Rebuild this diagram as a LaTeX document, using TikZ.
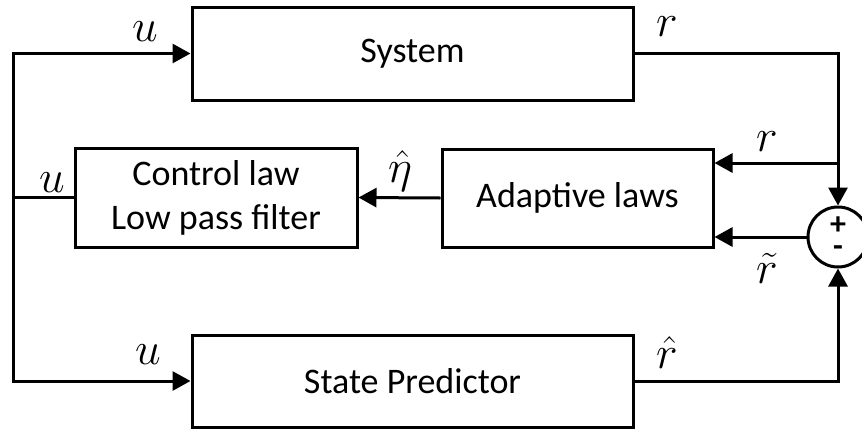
\RequirePackage{fix-cm}
\documentclass[tikz,border=0pt]{standalone}
\usepackage{fontspec}
\setmainfont{Carlito}
\usetikzlibrary{arrows.meta,calc}
\begin{document}
\begin{tikzpicture}[x=1pt,y=-1pt,
  blk/.style={draw,line width=3pt,rectangle,minimum width=#1,inner sep=0pt,align=center,font=\fontsize{36}{44}\selectfont},
  arr/.style={line width=3pt,-{Triangle[length=18pt,width=19pt]}},
  ln/.style={line width=3pt},
  sgn/.style={inner sep=0pt,font=\bfseries\fontsize{32}{32}\selectfont},
  lab/.style={inner sep=0pt,font=\fontsize{46}{50}\selectfont}]
\useasboundingbox (0,0) rectangle (862,429);
\node[blk=441pt,minimum height=93pt] (sys) at (412.5,53.5) {System};
\node[blk=282pt,minimum height=99pt] (ctrl) at (216,197.5) {Control law\\Low pass filter};
\node[blk=271pt,minimum height=98pt] (adap) at (577.5,198) {Adaptive laws};
\node[blk=441pt,minimum height=92pt] (pred) at (412.5,381) {State Predictor};
\node[draw,line width=3pt,circle,minimum size=60pt,inner sep=0pt] (sum) at (838,237) {};
\node[sgn] (plus) at (838,226) {+};
\node[sgn] (minus) at (838,251) {-};
\coordinate (L) at (13,0);
\coordinate (J) at (838,163);
% left side
\draw[ln] (ctrl.west) -- (L |- ctrl.west);
\draw[arr] (L |- ctrl.west) |- (sys.west);
\draw[arr] (L |- ctrl.west) |- (pred.west);
\draw[arr] (adap.west) -- (ctrl.east);
% right side
\draw[arr] (sys.east) -| (sum.north);
\draw[arr] (J) -- (J -| adap.east);
\draw[arr] (sum.west) -- (sum.west -| adap.east);
\draw[arr] (pred.east) -| (sum.south);
% labels
\node[lab] (u1) at (145,32) {$u$};
\node[lab] (r1) at (667,27) {$r$};
\node[lab] (u2) at (52,183) {$u$};
\node[lab] (eta) at (400,171) {$\hat{\eta}$};
\node[lab] (r2) at (767,142) {$r$};
\node[lab] (rt) at (767,268) {$\tilde{r}$};
\node[lab] (u3) at (148,355) {$u$};
\node[lab] (rh) at (667,353) {$\hat{r}$};
\end{tikzpicture}
\end{document}
